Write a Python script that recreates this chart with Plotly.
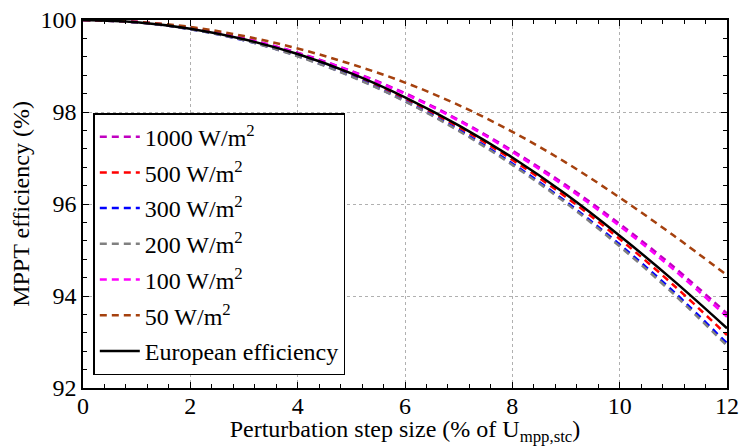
import plotly.graph_objects as go

x_step = [0, 1, 2, 3, 4, 5, 6, 7, 8, 9, 10, 11, 12]

eff_1000 = [100, 99.96, 99.82, 99.60, 99.29, 98.89, 98.41, 97.83, 97.16, 96.41, 95.57, 94.64, 93.62]
eff_500 = [100, 99.95, 99.81, 99.57, 99.24, 98.81, 98.29, 97.67, 96.96, 96.15, 95.24, 94.24, 93.15]
eff_300 = [100, 99.95, 99.80, 99.56, 99.22, 98.78, 98.24, 97.61, 96.88, 96.05, 95.12, 94.10, 92.97]
eff_200 = [100, 99.95, 99.80, 99.56, 99.21, 98.77, 98.23, 97.59, 96.85, 96.02, 95.08, 94.05, 92.92]
eff_100 = [100, 99.96, 99.82, 99.60, 99.28, 98.88, 98.39, 97.81, 97.13, 96.37, 95.52, 94.58, 93.55]
eff_50 = [100, 99.96, 99.85, 99.65, 99.38, 99.04, 98.64, 98.15, 97.57, 96.90, 96.14, 95.32, 94.45]
eff_euro = [100, 99.95, 99.81, 99.58, 99.26, 98.84, 98.32, 97.71, 97.01, 96.21, 95.31, 94.34, 93.30]

series = [
    ("1000 W/m<sup>2</sup>", eff_1000, "#c000c0", "dash"),
    ("500 W/m<sup>2</sup>", eff_500, "#ff0000", "dash"),
    ("300 W/m<sup>2</sup>", eff_300, "#0000ff", "dash"),
    ("200 W/m<sup>2</sup>", eff_200, "#808080", "dash"),
    ("100 W/m<sup>2</sup>", eff_100, "#ff00ff", "dash"),
    ("50 W/m<sup>2</sup>", eff_50, "#a5410e", "dash"),
    ("European efficiency", eff_euro, "#000000", "solid"),
]

FONT = "Liberation Serif, Times New Roman, serif"
FS = 24

fig = go.Figure()
for i, (name, vals, color, dash) in enumerate(series):
    fig.add_trace(go.Scatter(
        x=x_step, y=vals, mode="lines", name=name,
        legendgroup=f"g{i}",
        line=dict(color=color, width=2.5, dash="7px,5px" if dash == "dash" else "solid",
                  shape="spline", smoothing=1.0),
    ))

axis_common = dict(
    showline=True, linecolor="black", linewidth=1.5, mirror="ticks",
    ticks="inside", ticklen=6, tickcolor="black", tickwidth=1,
    showgrid=True, gridcolor="#b0b0b0", griddash="dot", gridwidth=1,
    zeroline=False, automargin=False,
    tickfont=dict(family=FONT, size=FS, color="black"),
    minor=dict(dtick=0.4, ticks="inside", ticklen=4, tickcolor="black", showgrid=False),
)

fig.update_xaxes(range=[0, 12], dtick=2, tick0=0, ticklabelstandoff=-5,
                 title=dict(text="Perturbation step size (% of U<sub>mpp,stc</sub>)",
                            font=dict(family=FONT, size=FS, color="black"), standoff=0),
                 **axis_common)
fig.update_yaxes(range=[92, 100], dtick=2, tick0=92,
                 title=dict(text="MPPT efficiency (%)",
                            font=dict(family=FONT, size=FS, color="black"), standoff=4),
                 **axis_common)

fig.update_layout(
    width=740, height=446,
    margin=dict(l=83, r=13, t=20, b=58),
    paper_bgcolor="white", plot_bgcolor="white",
    font=dict(family=FONT, size=FS, color="black"),
    legend=dict(x=0.016, y=0.035, xanchor="left", yanchor="bottom",
                bgcolor="white", bordercolor="black", borderwidth=1.5,
                tracegroupgap=1.5, font=dict(family=FONT, size=FS, color="black"),
                itemwidth=40),
    showlegend=True,
)

fig.write_html("out.html")
